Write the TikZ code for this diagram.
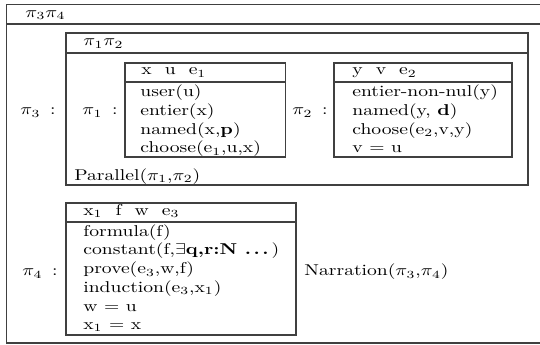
\documentclass[tikz,border=0pt]{standalone}
\usepackage{graphicx}
\newcommand\sqz[1]{\scalebox{1}[0.8]{#1}}
\begin{document}
\begin{tikzpicture}[x=0.51pt,y=-0.51pt,
  boxline/.style={draw=black!75,line width=0.6pt},
  txt/.style={anchor=base west,inner sep=0pt,font=\fontsize{10}{12}\selectfont}]
\useasboundingbox (0,0) rectangle (540,345);
\clip (0,0) rectangle (540,345);
% outer box (right edge cut off)
\draw[boxline] (6.5,4.5) rectangle (560,343);
\draw[boxline] (6.5,24) -- (560,24);
\node[txt] (h34) at (25,17.5) {\sqz{$\pi_3\pi_4$}};
% pi3 label and parallel box
\node[txt] (l3) at (20,115) {\sqz{$\pi_3$\enspace:}};
\draw[boxline] (66,33) rectangle (528,185);
\draw[boxline] (66,53) -- (528,53);
\node[txt] (h12) at (83,46) {\sqz{$\pi_1\pi_2$}};
% pi1
\node[txt] (l1) at (82,115) {\sqz{$\pi_1$\enspace:}};
\draw[boxline] (125,63) rectangle (285.5,157);
\draw[boxline] (125,82) -- (285.5,82);
\node[txt] (b1h) at (141,75) {\sqz{x\ \ u\ \ e$_1$}};
\node[txt] (b1a) at (140,97) {\sqz{user(u)}};
\node[txt] (b1b) at (140,115.6) {\sqz{entier(x)}};
\node[txt] (b1c) at (140,134.2) {\sqz{named(x,\textbf{p})}};
\node[txt] (b1d) at (140,152.8) {\sqz{choose(e$_1$,u,x)}};
% pi2
\node[txt] (l2) at (292,115) {\sqz{$\pi_2$\enspace:}};
\draw[boxline] (334,63) rectangle (512,157);
\draw[boxline] (334,82) -- (512,82);
\node[txt] (b2h) at (352,75) {\sqz{y\ \ v\ \ e$_2$}};
\node[txt] (b2a) at (352,97) {\sqz{entier-non-nul(y)}};
\node[txt] (b2b) at (352,115.6) {\sqz{named(y, \textbf{d})}};
\node[txt] (b2c) at (352,134.2) {\sqz{choose(e$_2$,v,y)}};
\node[txt] (b2d) at (352,152.8) {\sqz{v $=$ u}};
\node[txt] (par) at (74,180.5) {\sqz{Parallel($\pi_1$,$\pi_2$)}};
% pi4
\node[txt] (l4) at (22,276) {\sqz{$\pi_4$\enspace:}};
\draw[boxline] (66,203) rectangle (296,335);
\draw[boxline] (66,222) -- (296,222);
\node[txt] (b4h) at (83,215.5) {\sqz{x$_1$\ \ f\ \ w\ \ e$_3$}};
\node[txt] (b4a) at (83,236.5) {\sqz{formula(f)}};
\node[txt] (b4b) at (83,255) {\sqz{constant(f,$\exists$\textbf{q,r:N .\kern1.3pt.\kern1.3pt.}\kern1.5pt)}};
\node[txt] (b4c) at (83,273.7) {\sqz{prove(e$_3$,w,f)}};
\node[txt] (b4d) at (83,292.3) {\sqz{induction(e$_3$,x$_1$)}};
\node[txt] (b4e) at (83,311) {\sqz{w $=$ u}};
\node[txt] (b4f) at (83,329.5) {\sqz{x$_1$ $=$ x}};
\node[txt] (nar) at (304,276) {\sqz{Narration($\pi_3$,$\pi_4$)}};
\end{tikzpicture}
\end{document}
